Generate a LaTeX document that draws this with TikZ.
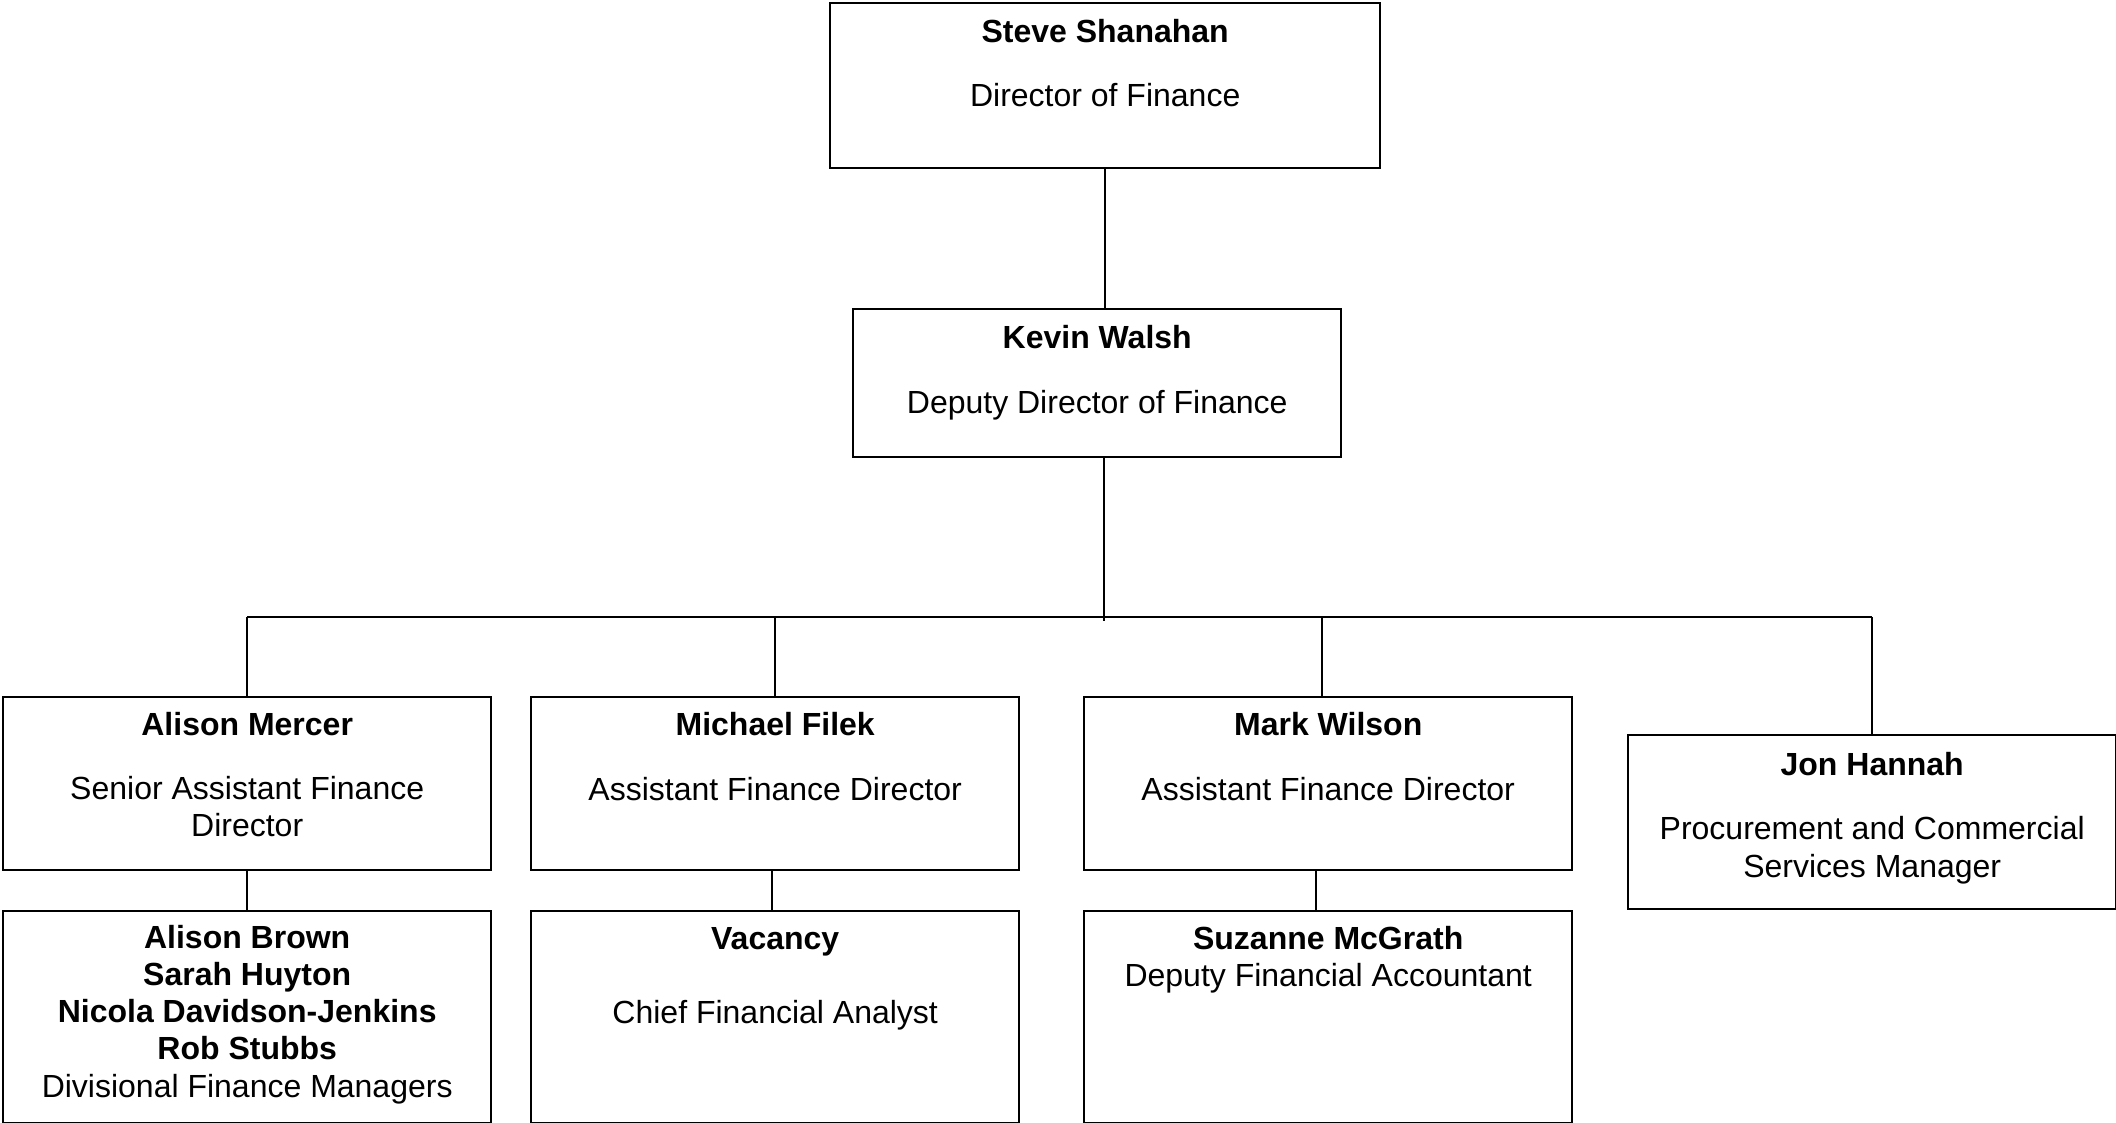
\documentclass[tikz,border=0pt]{standalone}
\usepackage{fontspec}
\setmainfont{Liberation Sans}
\usetikzlibrary{positioning,calc}
\tikzset{
  post/.style={draw,line width=0.9pt,fill=white,inner sep=0pt,anchor=north west,minimum width=183pt},
  who/.style={anchor=base,inner sep=0pt,align=center,font=\fontsize{12}{13.9}\selectfont\bfseries},
  job/.style={anchor=base,inner sep=0pt,align=center,font=\fontsize{12}{13.9}\selectfont},
  ln/.style={line width=0.65pt},
}

\begin{document}
\begin{tikzpicture}[x=0.375pt,y=-0.375pt]
  \useasboundingbox (0,0) rectangle (2116,1123);
  % boxes
  \node[post,minimum width=206.25pt,minimum height=61.9pt] (dir) at (829,2) {};
  \node[post,minimum height=55.5pt] (dep) at (852,308) {};
  \node[post,minimum height=64.9pt] (am) at (2,696) {};
  \node[post,minimum height=64.9pt] (mf) at (530,696) {};
  \node[post,minimum height=64.9pt] (mw) at (1083,696) {};
  \node[post,minimum height=65.25pt] (jh) at (1627,734) {};
  \node[post,minimum height=79.5pt] (dfm) at (2,910) {};
  \node[post,minimum height=79.5pt] (cfa) at (530,910) {};
  \node[post,minimum height=79.5pt] (dfa) at (1083,910) {};
  % names and posts (base = last line)
  \node[who] (dirn) at ($(dir.north)+(0,41)$) {Steve Shanahan};
  \node[job] (dirt) at ($(dir.north)+(0,105)$) {Director of Finance};
  \node[who] (depn) at ($(dep.north)+(0,41)$) {Kevin Walsh};
  \node[job] (dept) at ($(dep.north)+(0,106)$) {Deputy Director of Finance};
  \node[who] (amn) at ($(am.north)+(0,40)$) {Alison Mercer};
  \node[job] (amt) at ($(am.north)+(0,141)$) {Senior Assistant Finance\\Director};
  \node[who] (mfn) at ($(mf.north)+(0,40)$) {Michael Filek};
  \node[job] (mft) at ($(mf.north)+(0,104)$) {Assistant Finance Director};
  \node[who] (mwn) at ($(mw.north)+(0,40)$) {Mark Wilson};
  \node[job] (mwt) at ($(mw.north)+(0,104)$) {Assistant Finance Director};
  \node[who] (jhn) at ($(jh.north)+(0,41)$) {Jon Hannah};
  \node[job] (jht) at ($(jh.north)+(0,143)$) {Procurement and Commercial\\Services Manager};
  \node[job] (dfmn) at ($(dfm.north)+(0,187)$) {\textbf{Alison Brown}\\\textbf{Sarah Huyton}\\\textbf{Nicola Davidson-Jenkins}\\\textbf{Rob Stubbs}\\Divisional Finance Managers};
  \node[who] (cfan) at ($(cfa.north)+(0,39)$) {Vacancy};
  \node[job] (cfat) at ($(cfa.north)+(0,113)$) {Chief Financial Analyst};
  \node[who] (dfan) at ($(dfa.north)+(0,39)$) {Suzanne McGrath};
  \node[job] (dfat) at ($(dfa.north)+(0,76)$) {Deputy Financial Accountant};
  % connectors
  \coordinate (bus) at (1104,617);
  \coordinate (hub) at (1104,621);
  \coordinate (mwtop) at ($(mw.north)+(-6,0)$);
  \coordinate (mfbot) at ($(mf.south)+(-3,0)$);
  \coordinate (mwbot) at ($(mw.south)+(-12,0)$);
  \draw[ln] (dir.south) -- (dir.south |- dep.north);
  \draw[ln] (hub |- dep.south) -- (hub);
  \draw[ln] (am.north |- bus) -- (jh.north |- bus);
  \draw[ln] (am.north |- bus) -- (am.north);
  \draw[ln] (mf.north |- bus) -- (mf.north);
  \draw[ln] (mwtop |- bus) -- (mwtop);
  \draw[ln] (jh.north |- bus) -- (jh.north);
  \draw[ln] (am.south) -- (dfm.north);
  \draw[ln] (mfbot) -- (mfbot |- cfa.north);
  \draw[ln] (mwbot) -- (mwbot |- dfa.north);
\end{tikzpicture}
\end{document}
